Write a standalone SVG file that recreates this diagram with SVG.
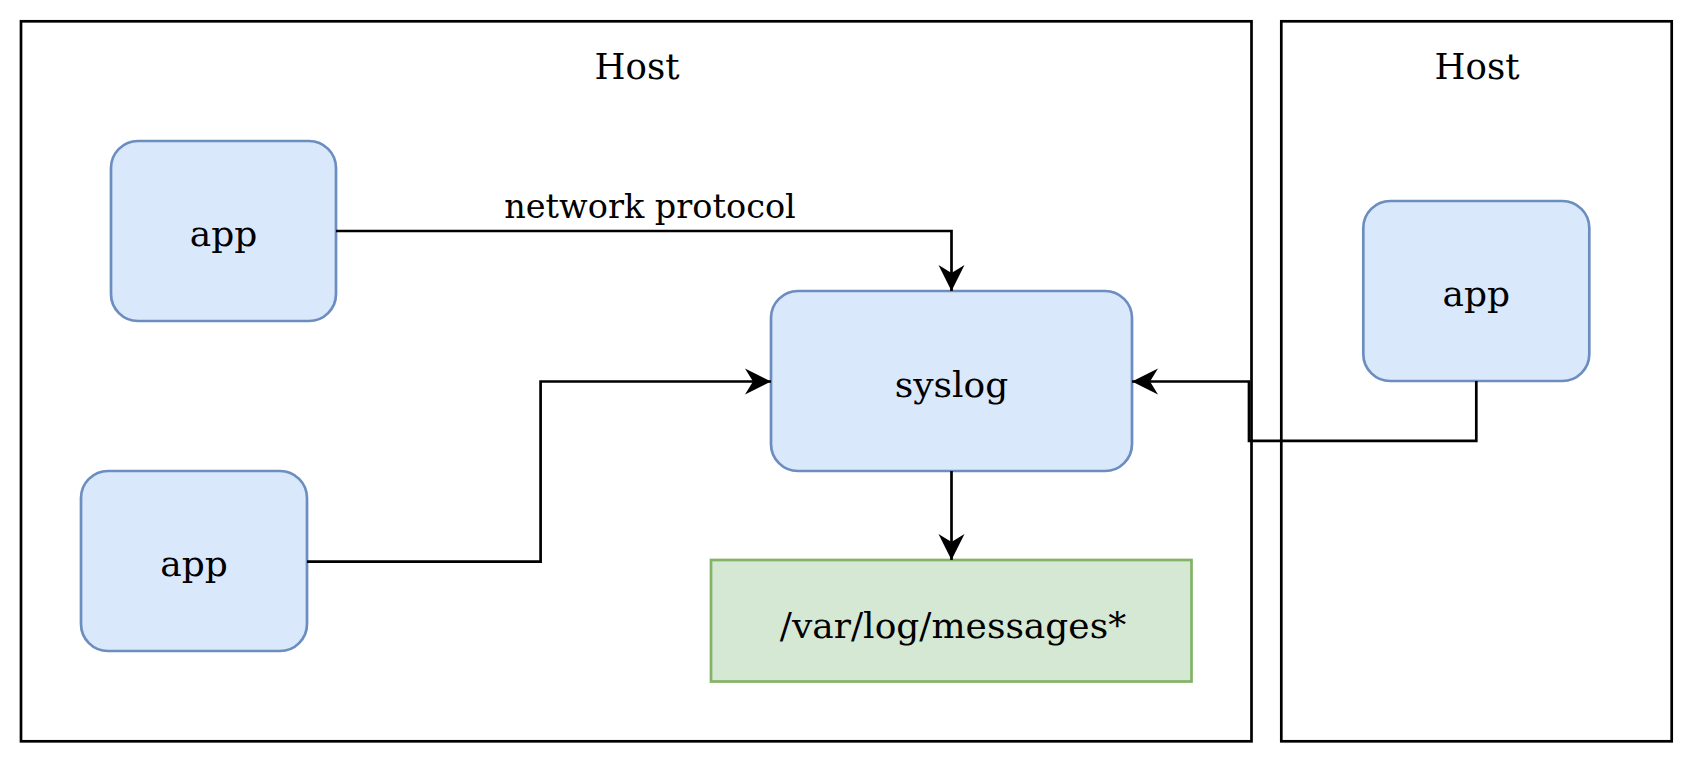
<svg xmlns="http://www.w3.org/2000/svg" width="1693" height="763" viewBox="0 0 1693 763">
<defs>
<style>
text{font-family:"DejaVu Serif","Liberation Serif",serif;fill:#000;text-anchor:middle}
.host{fill:none;stroke:#000;stroke-width:2.7}
.app{fill:#dae8fc;stroke:#6c8ebf;stroke-width:2.7}
.file{fill:#d5e8d4;stroke:#82b366;stroke-width:2.7}
.t{font-size:36px}
.h{font-size:35.5px}
.lbl{font-size:33.5px}
.edge{fill:none;stroke:#000;stroke-width:2.7;stroke-linejoin:miter}
</style>
<marker id="arr" markerUnits="userSpaceOnUse" markerWidth="30" markerHeight="30" viewBox="-28 -15 30 30" refX="0" refY="0" orient="auto">
<path d="M0,0 L-26,-13 L-18,0 L-26,13 Z" fill="#000"/>
</marker>
</defs>
<rect width="1693" height="763" fill="#fff"/>
<g id="host-left">
<rect class="host" x="21" y="21.3" width="1230.5" height="720"/>
<text class="h" x="637" y="79.3">Host</text>
</g>
<g id="host-right">
<rect class="host" x="1281.3" y="21.3" width="390.4" height="720"/>
<text class="h" x="1477" y="79.3">Host</text>
</g>
<g id="app1">
<rect class="app" x="111" y="141" width="225" height="180" rx="27"/>
<text class="t" x="223.5" y="245.7">app</text>
</g>
<g id="app2">
<rect class="app" x="81" y="471" width="226" height="180" rx="27"/>
<text class="t" x="194" y="575.5">app</text>
</g>
<g id="app3">
<rect class="app" x="1363.3" y="201" width="226" height="180" rx="27"/>
<text class="t" x="1476.3" y="305.5">app</text>
</g>
<g id="syslog">
<rect class="app" x="771" y="291" width="361" height="180" rx="27"/>
<text class="t" x="951.5" y="396.7">syslog</text>
</g>
<g id="messages">
<rect class="file" x="711" y="560" width="480.5" height="121.5"/>
<text class="t" x="953" y="638.3">/var/log/messages*</text>
</g>
<g id="connectors">
<path class="edge" d="M336,231 H951.5 V291" marker-end="url(#arr)"/>
<text class="lbl" x="650" y="218.3">network protocol</text>
<path class="edge" d="M307,561.7 H540.6 V381.5 H771" marker-end="url(#arr)"/>
<path class="edge" d="M1476.3,381 V440.8 H1249 V381.5 H1132" marker-end="url(#arr)"/>
<path class="edge" d="M951.5,471 V560" marker-end="url(#arr)"/>
</g>
</svg>
